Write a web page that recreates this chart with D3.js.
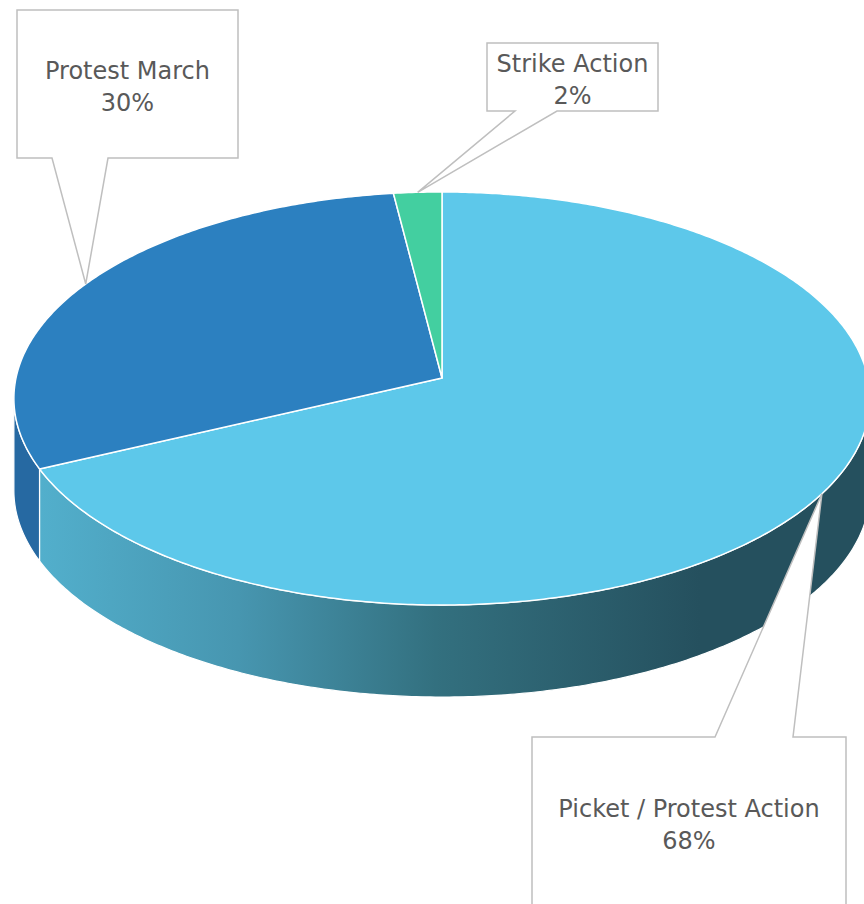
<!DOCTYPE html>
<html>
<head>
<meta charset="utf-8">
<script src="https://cdn.jsdelivr.net/npm/d3@7"></script>
<style>
  html, body { margin: 0; padding: 0; background: #fff; overflow: hidden; }
  text { font-family: "DejaVu Sans", sans-serif; }
</style>
</head>
<body>
<div id="chart"></div>
<script>
// data
var categories = ["Picket / Protest Action", "Protest March", "Strike Action"];
var values = [68, 30, 2];

var svgWidth = 864;
var svgHeight = 904;

// 3d pie geometry (perspective tilt)
var cx = 442, cy = 378;
var rx = 426, ry = 204.5;
var persp = 0.0993;
var depth = 92;

var color = d3.scaleOrdinal()
  .domain(categories)
  .range(["#5DC8EA", "#2C80C0", "#43CFA0"]);

var sideColor = d3.scaleOrdinal()
  .domain(categories)
  .range(["url(#sideGrad)", "#2669A2", "#2F9C78"]);

// callout boxes
var callouts = {
  "Protest March": { x0: 17, y0: 10, x1: 238, y1: 158, p1: 52, p2: 108, side: "bottom" },
  "Strike Action": { x0: 487, y0: 43, x1: 658, y1: 111, p1: 515, p2: 557, side: "bottom" },
  "Picket / Protest Action": { x0: 532, y0: 737, x1: 846, y1: 930, p1: 715, p2: 793, side: "top" }
};

var svg = d3.select("#chart")
  .append("svg")
  .attr("width", svgWidth)
  .attr("height", svgHeight);

var defs = svg.append("defs");
var grad = defs.append("linearGradient")
  .attr("id", "sideGrad")
  .attr("gradientUnits", "userSpaceOnUse")
  .attr("x1", 40).attr("y1", 0)
  .attr("x2", 700).attr("y2", 0);
[["0%", "#52AFCC"], ["30%", "#4796B0"], ["60%", "#33707F"], ["100%", "#25505E"]].forEach(function(s) {
  grad.append("stop").attr("offset", s[0]).attr("stop-color", s[1]);
});

// project an angle on the rim (clockwise from 12 o'clock)
function proj(theta, dy) {
  var u = Math.sin(theta);
  var v = -Math.cos(theta);
  var w = 1 - persp * v;
  return [cx + rx * u / w, cy + ry * v / w + (dy || 0)];
}

function rimPoints(a, b, dy) {
  var n = Math.max(2, Math.ceil((b - a) / 0.01));
  return d3.range(n + 1).map(function(i) { return proj(a + (b - a) * i / n, dy); });
}

var pie = d3.pie().sort(null).value(function(d) { return d; });
var arcs = pie(values);
arcs.forEach(function(d, i) { d.cat = categories[i]; });

var line = d3.line();

// visible front part of the rim
var visA = Math.PI - Math.acos(persp);
var visB = Math.PI + Math.acos(persp);

var sideGroup = svg.append("g");
arcs.forEach(function(d) {
  var a = Math.max(d.startAngle, visA);
  var b = Math.min(d.endAngle, visB);
  if (b <= a) return;
  var pts = rimPoints(a, b, 0).concat(rimPoints(a, b, depth).reverse());
  sideGroup.append("path")
    .attr("d", line(pts) + "Z")
    .attr("fill", sideColor(d.cat))
    .attr("stroke", "#fff")
    .attr("stroke-width", 1.2);
});

var topGroup = svg.append("g");
topGroup.selectAll("path")
  .data(arcs)
  .enter()
  .append("path")
  .attr("d", function(d) {
    return line([[cx, cy]].concat(rimPoints(d.startAngle, d.endAngle, 0))) + "Z";
  })
  .attr("fill", function(d) { return color(d.cat); })
  .attr("stroke", "#fff")
  .attr("stroke-width", 1.5)
  .attr("stroke-linejoin", "round");

// callouts
var total = d3.sum(values);
var labelGroup = svg.append("g");
arcs.forEach(function(d) {
  var c = callouts[d.cat];
  var tip = proj((d.startAngle + d.endAngle) / 2, 0);
  var p;
  if (c.side === "bottom") {
    p = [[c.x0, c.y0], [c.x1, c.y0], [c.x1, c.y1], [c.p2, c.y1], tip, [c.p1, c.y1], [c.x0, c.y1]];
  } else {
    p = [[c.x0, c.y0], [c.p1, c.y0], tip, [c.p2, c.y0], [c.x1, c.y0], [c.x1, c.y1], [c.x0, c.y1]];
  }
  labelGroup.append("path")
    .attr("d", line(p) + "Z")
    .attr("fill", "#fff")
    .attr("stroke", "#BFBFBF")
    .attr("stroke-width", 1.5);

  var tx = (c.x0 + c.x1) / 2;
  var ty = c.side === "bottom" ? (c.y0 + c.y1) / 2 : c.y0 + 85;
  var t = labelGroup.append("text")
    .attr("x", tx)
    .attr("text-anchor", "middle")
    .attr("fill", "#595959")
    .style("font-size", "24px");
  t.append("tspan").attr("x", tx).attr("y", ty - 5).text(d.cat);
  t.append("tspan").attr("x", tx).attr("y", ty + 27).text(Math.round(d.value / total * 100) + "%");
});
</script>
</body>
</html>
